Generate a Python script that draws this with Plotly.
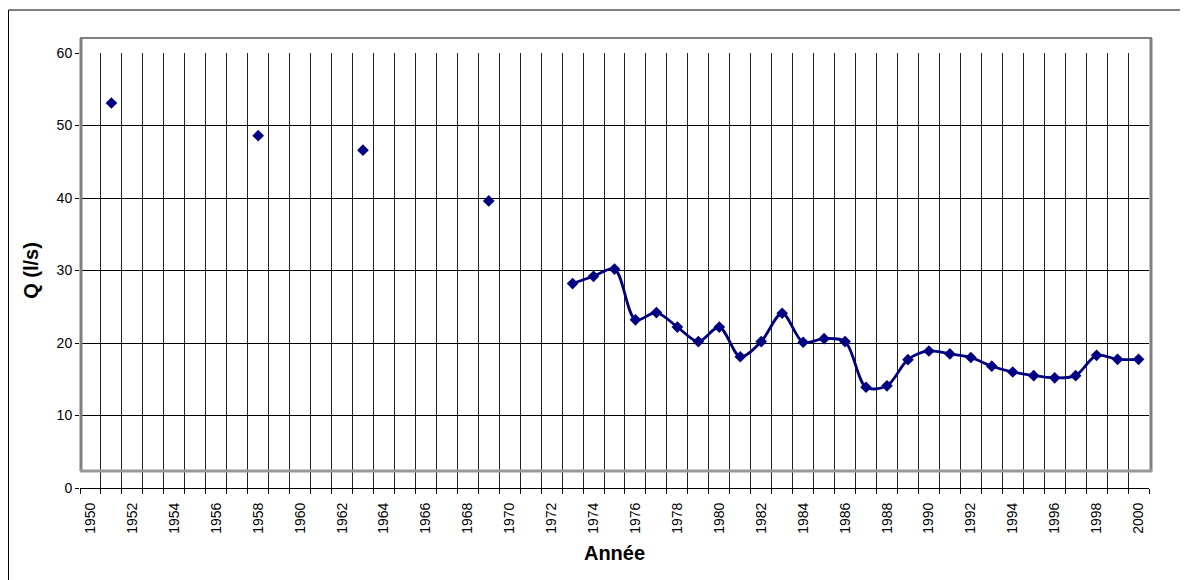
import plotly.graph_objects as go

# ---- data ----
years_isolated = [1951, 1958, 1963, 1969]
q_isolated = [53.1, 48.6, 46.6, 39.6]

years_series = list(range(1973, 2001))
q_series = [28.2, 29.2, 30.2, 23.2, 24.2, 22.2, 20.2, 22.2, 18.1, 20.2,
            24.1, 20.1, 20.6, 20.2, 13.9, 14.1, 17.7, 18.9, 18.5, 18.0,
            16.8, 16.0, 15.5, 15.2, 15.5, 18.3, 17.75, 17.75]

year_labels = list(range(1950, 2001, 2))
x_title = "Année"
y_title = "Q (l/s)"

NAVY = "#000080"
FONT = "Liberation Sans, Arial, sans-serif"

# The page body has an 8px margin, so the figure is drawn 8px right/down.
OFF = 8
W, H = 1188 - OFF, 580 - OFF
# plot area in screen pixels
PL, PR, PT, PB = 80, 1149, 53, 488
ML, MT = PL - OFF, PT - OFF
MR, MB = W - (PR - OFF), H - (PB - OFF)
PW = PR - PL
PH = PB - PT


def px(xs):
    return (xs - PL) / PW


def py(ys):
    return (PB - ys) / PH


fig = go.Figure()

fig.add_trace(go.Scatter(
    x=years_isolated, y=q_isolated, mode="markers",
    marker=dict(symbol="diamond", size=9, color=NAVY),
    showlegend=False, hoverinfo="x+y"))

fig.add_trace(go.Scatter(
    x=years_series, y=q_series, mode="lines+markers",
    line=dict(color=NAVY, width=2.8, shape="spline", smoothing=0.9),
    marker=dict(symbol="diamond", size=9, color=NAVY),
    showlegend=False, hoverinfo="x+y"))

# dummy trace to activate the label axis
fig.add_trace(go.Scatter(x=[1950], y=[None], xaxis="x2", yaxis="y",
                         showlegend=False, hoverinfo="skip"))

shapes = [
    # outer chart border (bottom edge falls outside the picture)
    dict(type="rect", xref="paper", yref="paper",
         x0=px(8.5), x1=px(1187.5), y0=py(584), y1=py(10),
         line=dict(color="#000000", width=1), layer="below"),
    # grey wall outline
    dict(type="line", xref="paper", yref="paper",
         x0=px(81), x1=px(81), y0=py(471), y1=py(38),
         line=dict(color="#808080", width=3), layer="above"),
    dict(type="line", xref="paper", yref="paper",
         x0=px(80), x1=px(1152), y0=py(38), y1=py(38),
         line=dict(color="#808080", width=2), layer="above"),
    dict(type="line", xref="paper", yref="paper",
         x0=px(1151), x1=px(1151), y0=py(472), y1=py(38),
         line=dict(color="#808080", width=3), layer="above"),
    dict(type="line", xref="paper", yref="paper",
         x0=px(80), x1=px(1152), y0=py(471), y1=py(471),
         line=dict(color="#999999", width=3), layer="above"),
]

fig.update_layout(
    width=W, height=H,
    margin=dict(l=ML, r=MR, t=MT, b=MB, autoexpand=False),
    paper_bgcolor="white", plot_bgcolor="white",
    font=dict(family=FONT, size=14, color="#000000"),
    shapes=shapes,
    xaxis=dict(
        type="linear", range=[1949.5, 2000.5],
        tick0=1949.5, dtick=1, showticklabels=False,
        showgrid=True, gridcolor="#222222", gridwidth=1,
        ticks="outside", ticklen=5, tickcolor="#000000", tickwidth=1,
        showline=True, linecolor="#000000", linewidth=1,
        zeroline=False, fixedrange=True,
    ),
    xaxis2=dict(
        type="linear", range=[1949.5, 2000.5], overlaying="x", anchor="y",
        side="bottom", tickmode="array", tickvals=year_labels,
        ticktext=[str(v) for v in year_labels], tickangle=-90,
        ticks="outside", ticklen=8, tickcolor="rgba(0,0,0,0)",
        showgrid=False, showline=False, zeroline=False,
        tickfont=dict(family=FONT, size=14, color="#000000"),
        title=dict(text=f"<b>{x_title}</b>", standoff=13,
                   font=dict(family=FONT, size=20, color="#000000")),
    ),
    yaxis=dict(
        range=[0, 60], dtick=10, tick0=0,
        showgrid=True, gridcolor="#000000", gridwidth=1,
        ticks="outside", ticklen=4, tickcolor="#000000",
        showline=False, zeroline=False,
        tickfont=dict(family=FONT, size=14, color="#000000"),
        title=dict(text=f"<b>{y_title}</b>", standoff=12,
                   font=dict(family=FONT, size=20, color="#000000")),
    ),
)

fig.write_html("out.html")
